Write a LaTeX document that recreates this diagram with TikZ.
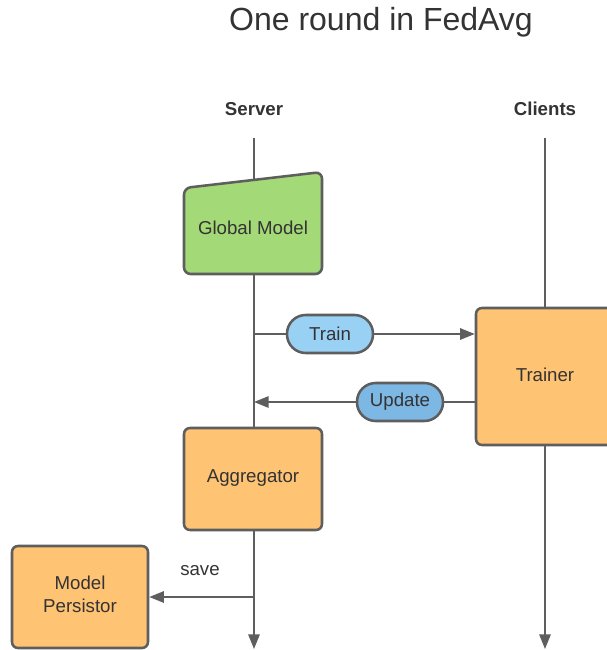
\documentclass[tikz,border=0pt]{standalone}
\usepackage{fontspec}
\setmainfont{Liberation Sans}
\usetikzlibrary{arrows.meta,calc}
\definecolor{edge}{HTML}{5E5E5E}
\definecolor{ink}{HTML}{333333}
\definecolor{greenfill}{HTML}{A3D977}
\definecolor{orangefill}{HTML}{FFC374}
\definecolor{lightblue}{HTML}{99D1F5}
\definecolor{midblue}{HTML}{7DB7E3}
\tikzset{
  box/.style={draw=edge, line width=1.9pt, rounded corners=4.5pt, fill=orangefill,
    text=ink, font=\fontsize{14}{17}\selectfont, align=center, inner sep=0pt},
  pill/.style={draw=edge, line width=1.9pt, rounded corners=14pt,
    minimum width=64.5pt, minimum height=28.5pt, text=ink,
    font=\fontsize{14}{17}\selectfont, inner sep=0pt},
  label/.style={text=ink, font=\fontsize{14}{17}\selectfont, align=center},
  wire/.style={draw=edge, line width=1.5pt},
  arr/.style={wire, -{Triangle[length=11pt,width=8.5pt]}},
  head/.style={text=ink, font=\fontsize{14}{17}\bfseries\selectfont},
}
\begin{document}
\begin{tikzpicture}[x=0.75pt, y=-0.75pt]
\clip (0,0) rectangle (607,650);
\fill[white] (0,0) rectangle (607,650);

% title and lane headings
\node[text=ink, font=\fontsize{24}{28}\selectfont] (title) at (381,22) {One round in FedAvg};
\node[head] (server) at (254,109) {Server};
\node[head] (clients) at (545,109) {Clients};

% lifelines
\coordinate (stop) at (254,138);
\coordinate (sbot) at (254,649);
\coordinate (ctop) at (545,138);
\coordinate (cbot) at (545,649);
\draw[arr] (stop) -- (sbot);
\draw[arr] (ctop) -- (cbot);

% global model (slanted-top card)
\filldraw[draw=edge, fill=greenfill, line width=1.9pt, rounded corners=5pt]
  (184,188) -- (322,172) -- (322,274) -- (184,274) -- cycle;
\node[label] (global) at (253,228) {Global Model};

% boxes
\node[box, minimum width=103.5pt, minimum height=102.75pt] (trainer) at (545,376.5) {};
\node[label] (trainertxt) at (545,375) {Trainer};
\node[box, minimum width=103.5pt, minimum height=76.5pt] (agg) at (253,479) {};
\node[label] (aggtxt) at (253,478) {Aggregator};
\node[box, minimum width=102pt, minimum height=76.5pt] (persist) at (80,597) {};
\node[label] (persisttxt) at (80,594.5) {Model\\Persistor};

% messages
\node[pill, fill=lightblue] (train) at (330,334) {Train};
\node[pill, fill=midblue] (update) at (400,402) {Update};
\coordinate (sendpt) at (254,334);
\coordinate (recvpt) at (254,402);
\coordinate (savept) at (254,597);

\draw[wire] (sendpt) -- (train.west);
\draw[arr] (train.east) -- (trainer.west |- train.east);
\draw[wire] (trainer.west |- update.east) -- (update.east);
\draw[arr] (update.west) -- (recvpt);
\draw[arr] (savept) -- (persist.east |- savept);
\node[label] (save) at (200,571) {save};
\end{tikzpicture}
\end{document}
